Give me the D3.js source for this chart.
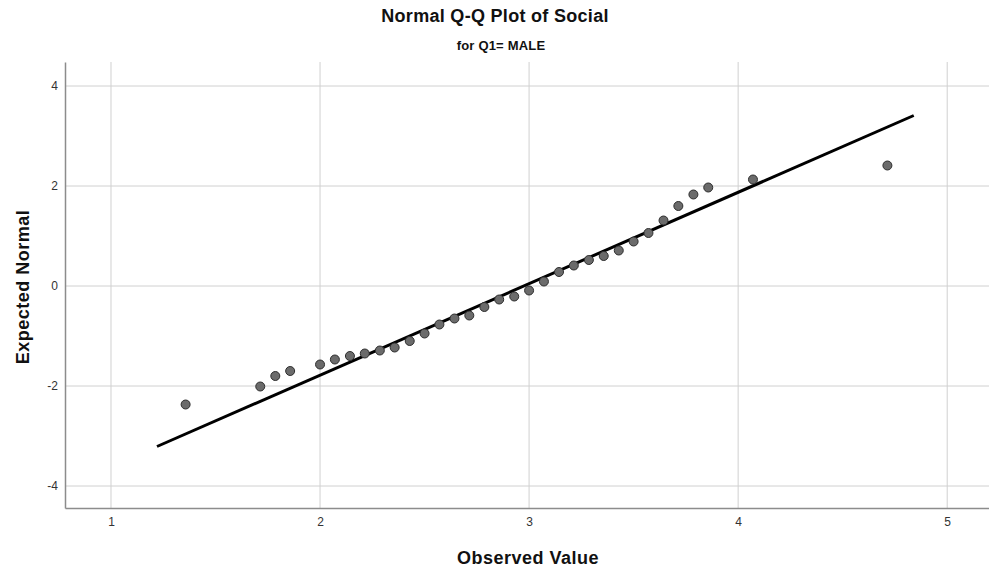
<!DOCTYPE html>
<meta charset="utf-8">
<style>
body { margin: 0; background: #fff; }
text { font-family: "Liberation Sans", Arial, sans-serif; }
.grid line { stroke: #d0d0d0; stroke-width: 1px; }
.title { font-weight: bold; fill: #111; }
</style>
<svg width="989" height="574"></svg>
<script src="https://d3js.org/d3.v7.min.js"></script>
<script>
// observed values (Social) and their expected normal quantiles
var observed = [1.357, 1.714, 1.786, 1.857, 2.0, 2.071, 2.143, 2.214, 2.286, 2.357,
                2.429, 2.5, 2.571, 2.643, 2.714, 2.786, 2.857, 2.929, 3.0, 3.071,
                3.143, 3.214, 3.286, 3.357, 3.429, 3.5, 3.571, 3.643, 3.714, 3.786,
                3.857, 4.071, 4.714];
var expected = [-2.37, -2.01, -1.80, -1.70, -1.57, -1.47, -1.40, -1.35, -1.29, -1.23,
                -1.10, -0.95, -0.77, -0.65, -0.59, -0.42, -0.27, -0.21, -0.09, 0.09,
                0.28, 0.41, 0.52, 0.60, 0.71, 0.89, 1.06, 1.31, 1.60, 1.83,
                1.97, 2.13, 2.41];
// reference line end points
var lineX = [1.22, 4.84];
var lineY = [-3.21, 3.41];
var xTicks = [1, 2, 3, 4, 5];
var yTicks = [-4, -2, 0, 2, 4];

var svg = d3.select("svg"),
    plotL = 65, plotR = 989, plotT = 62, plotB = 508;

var x = d3.scaleLinear().domain([0.78, 5.2]).range([plotL, plotR]);
var y = d3.scaleLinear().domain([-4.44, 4.48]).range([plotB, plotT]);

// grid
var grid = svg.append("g").attr("class", "grid");
grid.selectAll(".gx").data(xTicks).enter().append("line")
    .attr("x1", function(d) { return x(d); })
    .attr("x2", function(d) { return x(d); })
    .attr("y1", plotT).attr("y2", plotB);
grid.selectAll(".gy").data(yTicks).enter().append("line")
    .attr("y1", function(d) { return y(d); })
    .attr("y2", function(d) { return y(d); })
    .attr("x1", plotL).attr("x2", plotR);

// axes
var fmt = function(d) { return String(d); };
var xAxis = svg.append("g")
    .attr("transform", "translate(0," + plotB + ")")
    .call(d3.axisBottom(x).tickValues(xTicks).tickSize(0).tickPadding(9).tickFormat(fmt));
var yAxis = svg.append("g")
    .attr("transform", "translate(" + plotL + ",0)")
    .call(d3.axisLeft(y).tickValues(yTicks).tickSize(0).tickPadding(7).tickFormat(fmt));
[xAxis, yAxis].forEach(function(a) {
  a.attr("font-size", 12);
  a.select(".domain").attr("stroke", "#8c8c8c").attr("stroke-width", 1.5);
  a.selectAll("text").attr("fill", "#333");
});

// reference line
svg.append("line")
    .attr("x1", x(lineX[0])).attr("y1", y(lineY[0]))
    .attr("x2", x(lineX[1])).attr("y2", y(lineY[1]))
    .attr("stroke", "#000").attr("stroke-width", 3);

// points
svg.append("g").selectAll("circle")
    .data(observed)
    .enter().append("circle")
      .attr("cx", function(d) { return x(d); })
      .attr("cy", function(d, i) { return y(expected[i]); })
      .attr("r", 4.5)
      .attr("fill", "#6b6b6b")
      .attr("stroke", "#2e2e2e")
      .attr("stroke-width", 1);

// titles
svg.append("text").attr("class", "title")
    .attr("x", 495).attr("y", 22).attr("text-anchor", "middle")
    .style("font-size", "18px").style("letter-spacing", "0.3px")
    .text("Normal Q-Q Plot of Social");
svg.append("text").attr("class", "title")
    .attr("x", 501).attr("y", 50).attr("text-anchor", "middle")
    .style("font-size", "13px").style("letter-spacing", "0.2px")
    .text("for Q1= MALE");
svg.append("text").attr("class", "title")
    .attr("x", 528).attr("y", 564).attr("text-anchor", "middle")
    .style("font-size", "18px").style("letter-spacing", "0.5px")
    .text("Observed Value");
svg.append("text").attr("class", "title")
    .attr("transform", "translate(29,287) rotate(-90)")
    .attr("text-anchor", "middle")
    .style("font-size", "18px").style("letter-spacing", "0.5px")
    .text("Expected Normal");
</script>
